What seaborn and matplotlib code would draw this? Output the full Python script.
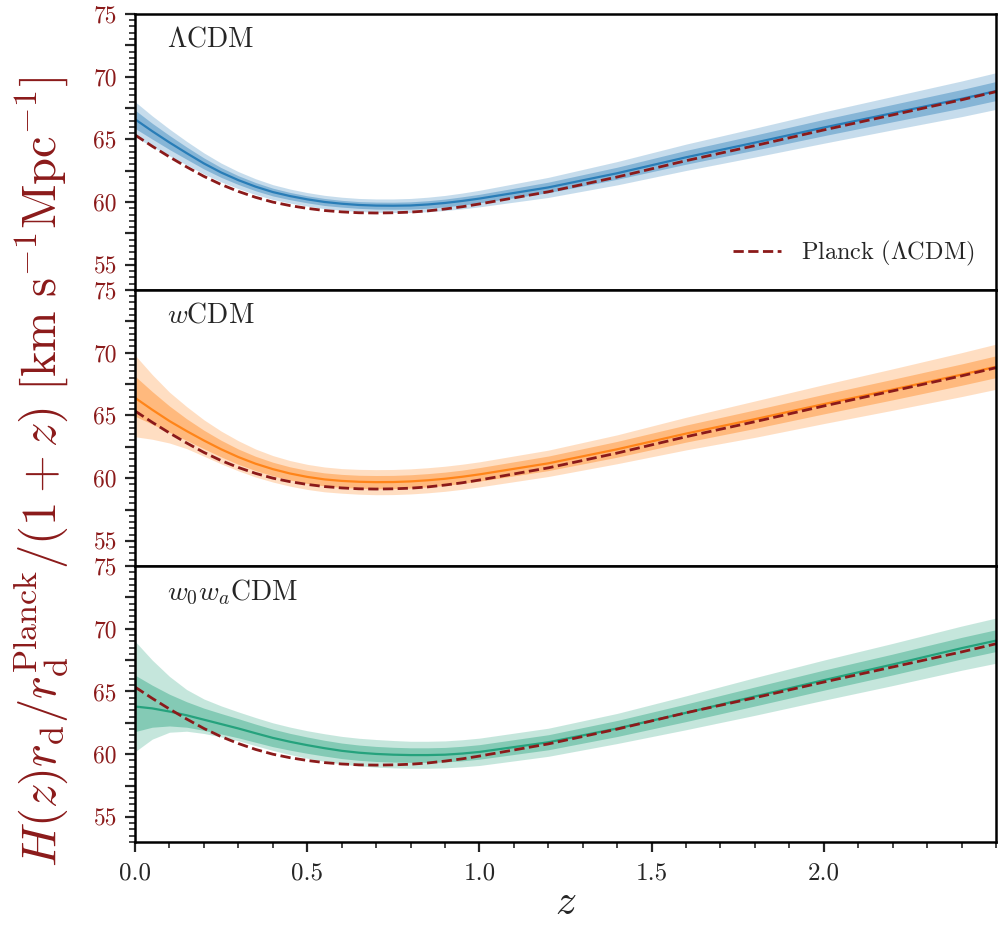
import numpy as np
import pandas as pd
import seaborn as sns
import matplotlib
matplotlib.use("Agg")
import matplotlib.pyplot as plt
from matplotlib.ticker import MultipleLocator, FuncFormatter
from matplotlib.lines import Line2D

# ---------------- data ----------------
z = [0.0, 0.05, 0.1, 0.15, 0.2, 0.25, 0.3, 0.35, 0.4, 0.45, 0.5, 0.55, 0.6,
     0.65, 0.7, 0.75, 0.8, 0.85, 0.9, 0.95, 1.0,
     1.2, 1.4, 1.6, 1.8, 2.0, 2.2, 2.4, 2.5]

planck = [65.35, 64.45, 63.6, 62.8, 62.05, 61.4, 60.85, 60.38, 60.0, 59.72,
          59.5, 59.33, 59.22, 59.15, 59.13, 59.15, 59.2, 59.3, 59.45, 59.63,
          59.85, 60.82, 62.0, 63.3, 64.5, 65.75, 66.95, 68.15, 68.8]

# LambdaCDM
lcdm_mid = [66.6, 65.65, 64.75, 63.9, 63.08, 62.36, 61.75, 61.23, 60.8, 60.48,
            60.22, 60.01, 59.87, 59.77, 59.72, 59.71, 59.73, 59.81, 59.93, 60.09,
            60.28, 61.17, 62.3, 63.57, 64.74, 65.94, 67.09, 68.23, 68.85]
lcdm_err95 = [1.4, 1.22, 1.07, 0.94, 0.84, 0.75, 0.68, 0.63, 0.59, 0.56,
              0.54, 0.53, 0.52, 0.52, 0.53, 0.54, 0.56, 0.58, 0.6, 0.63,
              0.66, 0.8, 0.93, 1.05, 1.15, 1.25, 1.33, 1.42, 1.46]
lcdm_err68 = [0.73, 0.63, 0.56, 0.49, 0.44, 0.39, 0.35, 0.33, 0.31, 0.29,
              0.28, 0.28, 0.27, 0.27, 0.28, 0.28, 0.29, 0.3, 0.31, 0.33,
              0.34, 0.42, 0.48, 0.55, 0.6, 0.65, 0.69, 0.74, 0.76]

# wCDM
wcdm_mid = [66.4, 65.45, 64.55, 63.75, 63.0, 62.3, 61.68, 61.15, 60.72, 60.37,
            60.1, 59.9, 59.78, 59.71, 59.68, 59.69, 59.74, 59.83, 59.95, 60.11,
            60.3, 61.18, 62.3, 63.55, 64.7, 65.9, 67.06, 68.25, 68.88]
wcdm_up95 = [3.4, 2.8, 2.3, 1.95, 1.65, 1.45, 1.3, 1.17, 1.08, 1.03,
             1.0, 0.99, 0.98, 0.99, 1.0, 1.0, 1.0, 1.0, 1.0, 1.0,
             1.0, 1.05, 1.15, 1.3, 1.45, 1.55, 1.65, 1.75, 1.8]
wcdm_dn95 = [3.1, 2.35, 1.75, 1.4, 1.25, 1.16, 1.1, 1.06, 1.03, 1.01,
             1.0, 0.99, 0.98, 0.99, 1.0, 1.0, 1.0, 1.0, 1.0, 1.0,
             1.0, 1.05, 1.15, 1.3, 1.45, 1.55, 1.65, 1.75, 1.8]
wcdm_up68 = [1.73, 1.45, 1.2, 0.98, 0.82, 0.72, 0.64, 0.59, 0.55, 0.53,
             0.52, 0.52, 0.52, 0.52, 0.53, 0.53, 0.53, 0.53, 0.53, 0.53,
             0.54, 0.58, 0.63, 0.68, 0.74, 0.78, 0.82, 0.85, 0.87]
wcdm_dn68 = [1.47, 1.15, 0.9, 0.75, 0.66, 0.61, 0.58, 0.55, 0.53, 0.52,
             0.52, 0.52, 0.52, 0.52, 0.53, 0.53, 0.53, 0.53, 0.53, 0.53,
             0.54, 0.58, 0.63, 0.68, 0.74, 0.78, 0.82, 0.85, 0.87]

# w0waCDM
w0wa_mid = [63.8, 63.65, 63.4, 63.1, 62.75, 62.4, 62.05, 61.67, 61.3, 60.99,
            60.72, 60.48, 60.27, 60.12, 60.02, 59.96, 59.93, 59.93, 59.96, 60.05,
            60.18, 60.95, 62.05, 63.3, 64.6, 65.9, 67.15, 68.45, 69.05]
w0wa_up95 = [5.2, 3.85, 2.8, 2.05, 1.65, 1.45, 1.32, 1.25, 1.2, 1.17,
             1.15, 1.15, 1.15, 1.15, 1.15, 1.13, 1.1, 1.1, 1.1, 1.1,
             1.1, 1.12, 1.2, 1.35, 1.5, 1.6, 1.68, 1.76, 1.8]
w0wa_dn95 = [3.6, 2.45, 1.65, 1.27, 1.1, 1.02, 0.98, 0.99, 1.0, 1.02,
             1.04, 1.05, 1.05, 1.05, 1.05, 1.05, 1.05, 1.05, 1.05, 1.06,
             1.08, 1.12, 1.2, 1.35, 1.5, 1.6, 1.68, 1.76, 1.8]
w0wa_up68 = [2.5, 1.85, 1.38, 1.08, 0.92, 0.84, 0.78, 0.73, 0.7, 0.67,
             0.65, 0.63, 0.62, 0.61, 0.6, 0.59, 0.58, 0.58, 0.58, 0.58,
             0.58, 0.6, 0.64, 0.7, 0.76, 0.8, 0.83, 0.86, 0.87]
w0wa_dn68 = [2.0, 1.5, 1.15, 0.95, 0.85, 0.79, 0.75, 0.72, 0.7, 0.67,
             0.65, 0.63, 0.62, 0.61, 0.6, 0.59, 0.58, 0.58, 0.58, 0.58,
             0.58, 0.6, 0.64, 0.7, 0.76, 0.8, 0.83, 0.86, 0.87]

model_names = [r"$\Lambda\mathrm{CDM}$", r"$w\mathrm{CDM}$", r"$w_0w_a\mathrm{CDM}$"]
legend_label = r"$\mathrm{Planck}\ (\Lambda\mathrm{CDM})$"
ytick_vals = [55, 60, 65, 70, 75]
xtick_vals = [0.0, 0.5, 1.0, 1.5, 2.0]

# ---------------- style ----------------
sns.set_theme(style="ticks")
plt.rcParams.update({
    "font.family": ["serif"],
    "font.serif": ["cmr10", "DejaVu Serif"],
    "mathtext.fontset": "cm",
    "axes.formatter.use_mathtext": True,
    "axes.unicode_minus": False,
})

RED = "#8B1A1A"
colors = ["#1f77b4", "#ff7f0e", "#1b9e77"]

zarr = np.array(z)
models = [
    (np.array(lcdm_mid), np.array(lcdm_err95), np.array(lcdm_err95),
     np.array(lcdm_err68), np.array(lcdm_err68)),
    (np.array(wcdm_mid), np.array(wcdm_up95), np.array(wcdm_dn95),
     np.array(wcdm_up68), np.array(wcdm_dn68)),
    (np.array(w0wa_mid), np.array(w0wa_up95), np.array(w0wa_dn95),
     np.array(w0wa_up68), np.array(w0wa_dn68)),
]

fig, axes = plt.subplots(3, 1, figsize=(9.98, 9.25), dpi=100, sharex=True)
fig.subplots_adjust(left=0.1353, right=0.998, top=0.985, bottom=0.0897, hspace=0.0)

for i, ax in enumerate(axes):
    mid, up95, dn95, up68, dn68 = models[i]
    c = colors[i]
    ax.fill_between(zarr, mid - dn95, mid + up95, color=c, alpha=0.25, lw=0)
    ax.fill_between(zarr, mid - dn68, mid + up68, color=c, alpha=0.38, lw=0)
    df = pd.DataFrame({"z": zarr, "H": mid})
    sns.lineplot(data=df, x="z", y="H", ax=ax, color=c, lw=1.6, alpha=0.9)
    dfp = pd.DataFrame({"z": zarr, "H": planck})
    sns.lineplot(data=dfp, x="z", y="H", ax=ax, color=RED, lw=2.0,
                 linestyle="--")
    ax.set_xlim(0, 2.5)
    ax.set_ylim(53, 75)
    ax.set_xlabel("")
    ax.set_ylabel("")
    ax.yaxis.set_major_locator(MultipleLocator(2.5))
    ax.yaxis.set_minor_locator(MultipleLocator(0.5))
    ax.yaxis.set_major_formatter(FuncFormatter(
        lambda v, p: f"{int(round(v))}" if int(round(v)) in ytick_vals and abs(v - round(v)) < 1e-6 else ""))
    ax.xaxis.set_major_locator(MultipleLocator(0.5))
    ax.xaxis.set_minor_locator(MultipleLocator(0.1))
    ax.tick_params(axis="y", which="major", direction="out", length=7, width=1.6,
                   labelsize=17, labelcolor=RED, pad=6)
    ax.tick_params(axis="y", which="minor", direction="out", length=4, width=1.2)
    ax.tick_params(axis="x", which="major", direction="out", length=7, width=1.6,
                   labelsize=18, pad=8)
    ax.tick_params(axis="x", which="minor", direction="out", length=4, width=1.2)
    for s in ax.spines.values():
        s.set_linewidth(1.8)
        s.set_color("black")
    ax.text(0.037, 0.955, model_names[i], transform=ax.transAxes,
            fontsize=20, va="top", ha="left")
    if i < 2:
        ax.tick_params(axis="x", which="both", bottom=False, labelbottom=False)

axes[2].set_xticks(xtick_vals)
axes[2].set_xticklabels([f"{v:.1f}" for v in xtick_vals])
axes[2].set_xlabel(r"$z$", fontsize=30, labelpad=0)

handle = Line2D([0], [0], color=RED, lw=2.0, linestyle="--")
axes[0].legend([handle], [legend_label], loc="lower right", frameon=False,
               fontsize=17.5, handlelength=2.0, bbox_to_anchor=(1.0, 0.0))

fig.text(0.042, 0.49,
         r"$H(z)r_\mathrm{d}/r_\mathrm{d}^\mathrm{Planck}/(1+z)\ [\mathrm{km\ s^{-1}Mpc^{-1}}]$",
         rotation=90, color=RED, fontsize=35, ha="center", va="center")

fig.savefig("out.png", dpi=100)
